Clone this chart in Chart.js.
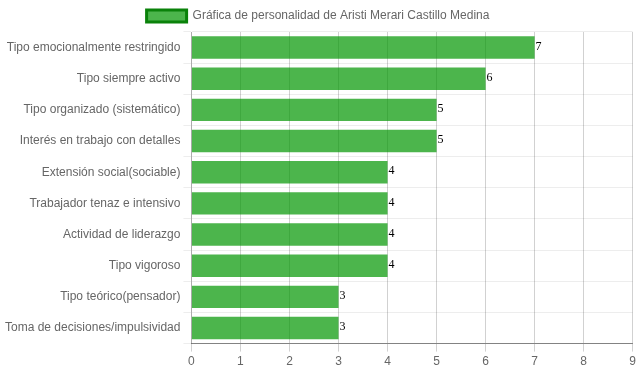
<!DOCTYPE html>
<html>
<head>
<meta charset="utf-8">
<script src="https://cdn.jsdelivr.net/npm/chart.js@4.4.0/dist/chart.umd.min.js"></script>
<style>
  html, body { margin: 0; padding: 0; background: #fff; }
  #wrap { width: 639px; height: 372px; position: relative; }
</style>
</head>
<body>
<div id="wrap"><canvas id="personalidadChart"></canvas></div>
<script>
// ===== Data =====
const categories = [
  "Tipo emocionalmente restringido",
  "Tipo siempre activo",
  "Tipo organizado (sistemático)",
  "Interés en trabajo con detalles",
  "Extensión social(sociable)",
  "Trabajador tenaz e intensivo",
  "Actividad de liderazgo",
  "Tipo vigoroso",
  "Tipo teórico(pensador)",
  "Toma de decisiones/impulsividad"
];
const puntajes = [7, 6, 5, 5, 4, 4, 4, 4, 3, 3];
const seriesLabel = "Gráfica de personalidad de Aristi Merari Castillo Medina";
const xTicks = [0, 1, 2, 3, 4, 5, 6, 7, 8, 9];

Chart.defaults.font.family = "'Liberation Sans', Arial, sans-serif";
Chart.defaults.font.size = 12;
Chart.defaults.color = "#666";

// value label at the end of each bar
const valueLabels = {
  id: "valueLabels",
  afterDatasetsDraw(chart) {
    const c = chart.ctx;
    c.save();
    c.font = "12px 'Liberation Serif', 'Times New Roman', serif";
    c.fillStyle = "#000";
    c.textAlign = "left";
    c.textBaseline = "middle";
    chart.getDatasetMeta(0).data.forEach((bar, i) => {
      c.fillText(puntajes[i], bar.x + 1, bar.y - 1);
    });
    c.restore();
  }
};

const ctx = document.getElementById("personalidadChart");

new Chart(ctx, {
  type: "bar",
  data: {
    labels: categories,
    datasets: [
      {
        label: seriesLabel,
        data: puntajes,
        backgroundColor: "rgba(0, 150, 0, 0.7)",
        borderColor: "rgb(10, 130, 10)",
        borderWidth: 0
      }
    ]
  },
  options: {
    indexAxis: "y",
    responsive: true,
    maintainAspectRatio: false,
    animation: false,
    layout: { padding: { left: 2, right: 5 } },
    plugins: {
      legend: {
        labels: {
          boxWidth: 40,
          generateLabels(chart) {
            const items = Chart.defaults.plugins.legend.labels.generateLabels(chart);
            items.forEach(it => {
              it.lineWidth = 3;
              it.strokeStyle = "rgb(10, 130, 10)";
            });
            return items;
          }
        }
      },
      tooltip: { enabled: false }
    },
    scales: {
      x: {
        min: 0,
        max: xTicks[xTicks.length - 1],
        ticks: { stepSize: 1 },
        grid: { color: "rgba(0,0,0,0.18)" },
        border: { color: "rgba(0,0,0,0.45)" }
      },
      y: {
        grid: { color: "rgba(0,0,0,0.07)" },
        border: { color: "rgba(0,0,0,0.18)" }
      }
    }
  },
  plugins: [valueLabels]
});
</script>
</body>
</html>
